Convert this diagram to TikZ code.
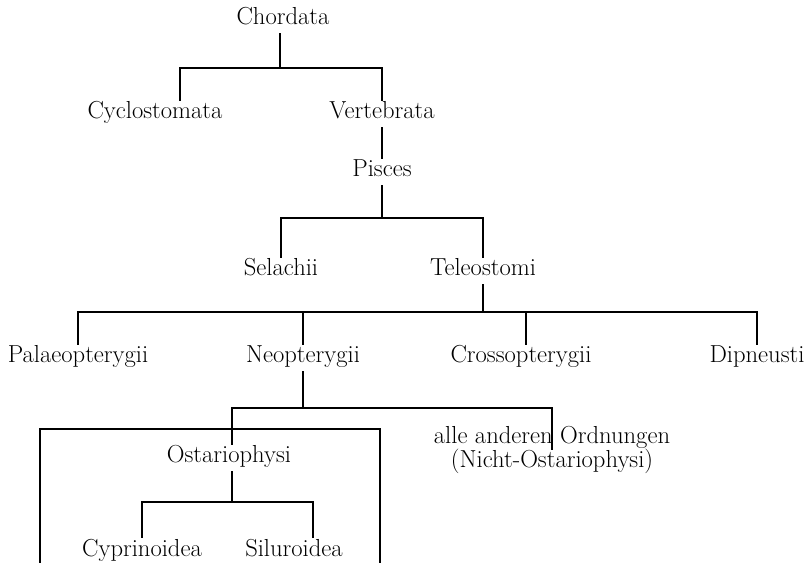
\documentclass[tikz,border=0pt]{standalone}
\usepackage{amsmath}
\usepackage{tikz}

\begin{document}
\begin{tikzpicture}[x=0.025cm,y=-0.025cm,line width=2pt,
  taxon/.style={anchor=base,inner xsep=2pt,inner ysep=5pt,text height=0.69em,text depth=0pt,
    font=\fontsize{17.5}{14.5}\selectfont}]
\useasboundingbox (0,0) rectangle (809,563);
\node[taxon] (chordata) at (283,25) {Chordata};
\node[taxon] (cyclo) at (155,119) {Cyclostomata};
\node[taxon] (vert) at (382,119) {Vertebrata};
\node[taxon] (pisces) at (382,177) {Pisces};
\node[taxon] (selachii) at (281,276) {Selachii};
\node[taxon] (teleo) at (483,276) {Teleostomi};
\node[taxon] (palaeo) at (78,363) {Palaeopterygii};
\node[taxon] (neo) at (303,363) {Neopterygii};
\node[taxon] (crosso) at (521,363) {Crossopterygii};
\node[taxon] (dipneusti) at (757,363) {Dipneusti};
\node[taxon] (ostario) at (229,463) {Ostariophysi};
\node[taxon,align=center] (andere) at (552,468) {alle anderen Ordnungen\\(Nicht-Ostariophysi)};
\node[taxon] (cyprino) at (142,556) {Cyprinoidea};
\node[taxon] (siluro) at (294,556) {Siluroidea};
\coordinate (k1) at (280,68);
\coordinate (k2) at (382,218);
\coordinate (k3) at (483,312);
\coordinate (k4) at (303,408);
\coordinate (k5) at (232,502);
\draw (chordata.south -| k1) -- (k1);
\draw ([shift={(25,0)}]cyclo.north) |- (k1);
\draw (vert.north) |- (k1);
\draw (vert) -- (pisces);
\draw (pisces) -- (k2);
\draw (selachii.north) |- (k2);
\draw (teleo.north) |- (k2);
\draw (teleo) -- (k3);
\draw (palaeo.north) |- (k3);
\draw (neo.north) |- (k3);
\draw ([shift={(5,0)}]crosso.north) |- (k3);
\draw (dipneusti.north) |- (k3);
\draw (neo.south) -- (k4);
\draw ([shift={(3,0)}]ostario.north) |- (k4);
\draw (andere.north) |- (k4);
\draw (ostario.south -| k5) -- (k5);
\draw (cyprino.north) |- (k5);
\draw ([shift={(19,0)}]siluro.north) |- (k5);
\draw (40,563) -- (40,429) -- (380,429) -- (380,563);
\end{tikzpicture}
\end{document}
